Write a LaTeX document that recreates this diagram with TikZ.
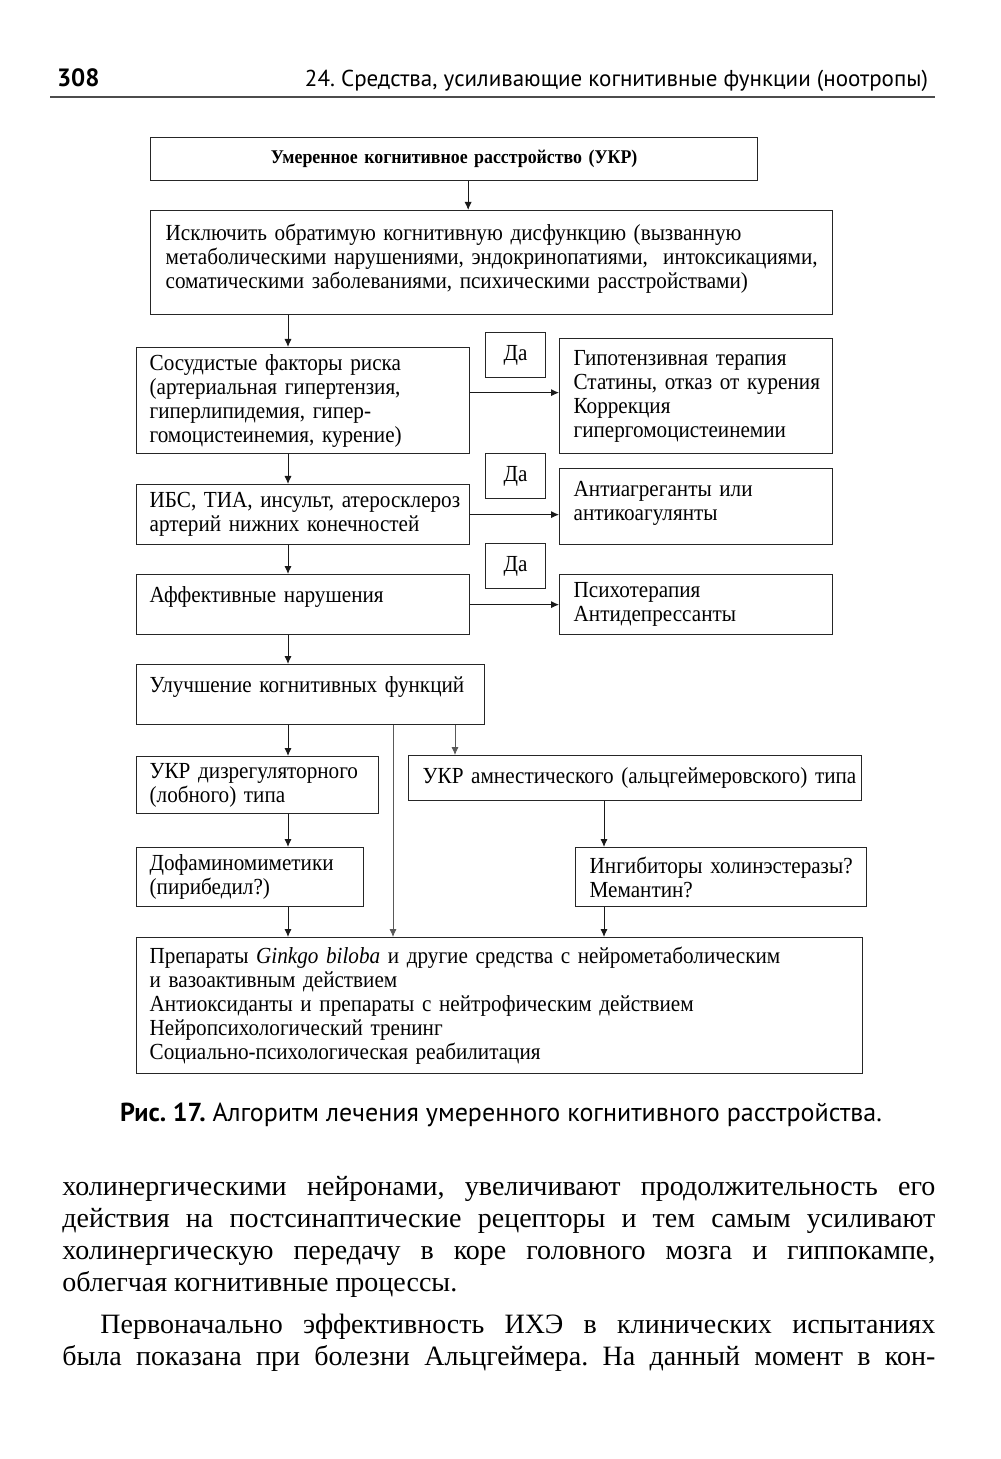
\documentclass[tikz,border=0pt]{standalone}
\usepackage{fontspec}
\setmainfont{Liberation Serif}
\newfontfamily\hdrfont{PT Sans}
\newfontfamily\diagfont[FakeStretch=0.92]{Liberation Serif}
\usetikzlibrary{arrows.meta}
\frenchspacing

\begin{document}
\begin{tikzpicture}[
    x=0.5pt, y=-0.5pt,
    box/.style={
        rectangle,
        draw=black!85,
        line width=0.65pt,
        anchor=north west,
        inner xsep=6.5pt,
        inner ysep=2pt,
        align=left,
        font=\diagfont\fontsize{11.5}{12}\selectfont
    },
    yesbox/.style={
        box,
        minimum width=30pt,
        minimum height=22.5pt,
        align=center,
        inner xsep=2pt
    },
    arrow/.style={-{Latex[length=4pt,width=3.6pt]}, line width=0.5pt, black!90},
    thinarrow/.style={arrow, black!65, line width=0.4pt}
]
\useasboundingbox (0,0) rectangle (1000,1459);

% Page header
\node[anchor=base west, font=\hdrfont\bfseries\fontsize{12.5}{14}\selectfont] (pagenum) at (50,87) {308};
\node[anchor=base east, font=\hdrfont\fontsize{11.5}{13}\selectfont] (runhead) at (935,87)
    {24. Средства, усиливающие когнитивные функции (ноотропы)};
\draw[black!70, line width=0.8pt] (50,97) -- (935,97);

% Main column
\node[box, text width=290.5pt, minimum height=21.5pt, align=center,
      font=\diagfont\bfseries\fontsize{9.7}{12}\selectfont] (ukr) at (150,137)
    {Умеренное когнитивное расстройство (УКР)};

\node[box, text width=326pt, minimum height=52pt, inner xsep=7.5pt] (excl) at (150,210) {
\mbox{Исключить обратимую когнитивную дисфункцию (вызванную}\\
\mbox{метаболическими нарушениями, эндокринопатиями,\ \ интоксикациями,}\\
\mbox{соматическими заболеваниями, психическими расстройствами)}\\[-6pt]\mbox{}
};

\node[box, text width=153.5pt, minimum height=53pt] (vasc) at (136,347) {
Сосудистые факторы риска\\
\mbox{(артериальная гипертензия,}\\
гиперлипидемия, гипер-\\
\mbox{гомоцистеинемия, курение)}
};

\node[box, text width=153.5pt, minimum height=30pt] (ibs) at (136,484) {
\mbox{ИБС, ТИА, инсульт, атеросклероз}\\
артерий нижних конечностей
};

\node[box, text width=153.5pt, minimum height=30pt] (aff) at (136,574) {
Аффективные нарушения\\[-2pt]\mbox{}
};

\node[box, text width=161pt, minimum height=30pt] (impr) at (136,664) {
Улучшение когнитивных функций\\[-2pt]\mbox{}
};

% Yes branches
\node[yesbox] (yes1) at (485,332) {Да};
\node[yesbox] (yes2) at (485,453) {Да};
\node[yesbox] (yes3) at (485,543) {Да};

\node[box, text width=122.5pt, minimum height=57.5pt, inner xsep=7pt] (hypo) at (559,338) {
Гипотензивная терапия\\
\mbox{Статины, отказ от курения}\\
Коррекция\\
гипергомоцистеинемии
};

\node[box, text width=122.5pt, minimum height=38pt, inner xsep=7pt] (anti) at (559,468) {
Антиагреганты или\\
антикоагулянты\\[-6pt]\mbox{}
};

\node[box, text width=122.5pt, minimum height=30pt, inner xsep=7pt] (psy) at (559,574) {
Психотерапия\\
Антидепрессанты
};

% Two types
\node[box, text width=108pt, minimum height=28.5pt] (dys) at (136,756) {
\mbox{УКР дизрегуляторного}\\
(лобного) типа
};

\node[box, text width=212.5pt, minimum height=22.5pt, inner xsep=7pt] (amn) at (408,755) {
\mbox{УКР амнестического (альцгеймеровского) типа}
};

\node[box, text width=100.5pt, minimum height=29.5pt] (dopa) at (136,847) {
Дофаминомиметики\\
(пирибедил?)
};

\node[box, text width=131.5pt, minimum height=29.5pt, inner xsep=7pt] (chol) at (575,847) {
\mbox{Ингибиторы холинэстеразы?}\\
Мемантин?
};

\node[box, text width=350pt, minimum height=68pt] (final) at (136,937) {
\mbox{Препараты \textit{Ginkgo biloba} и другие средства с нейрометаболическим}\\
и вазоактивным действием\\
Антиоксиданты и препараты с нейтрофическим действием\\
Нейропсихологический тренинг\\
Социально-психологическая реабилитация
};

% Arrow columns
\coordinate (spine) at (288,0);
\coordinate (midcol) at (393,0);
\coordinate (amncol) at (455,0);
\coordinate (cholcol) at (604,0);

% Arrows
\draw[arrow] ([xshift=7pt]ukr.south) -- ([xshift=7pt]ukr.south |- excl.north);
\draw[arrow] (excl.south -| spine) -- (vasc.north -| spine);
\draw[arrow] (vasc.south -| spine) -- (ibs.north -| spine);
\draw[arrow] (ibs.south -| spine) -- (aff.north -| spine);
\draw[arrow] (aff.south -| spine) -- (impr.north -| spine);
\draw[arrow] (impr.south -| spine) -- (dys.north -| spine);
\draw[thinarrow] (impr.south -| amncol) -- (amn.north -| amncol);
\draw[thinarrow] (impr.south -| midcol) -- (final.north -| midcol);
\draw[arrow] (dys.south -| spine) -- (dopa.north -| spine);
\draw[arrow] (dopa.south -| spine) -- (final.north -| spine);
\draw[arrow] (amn.south -| cholcol) -- (chol.north -| cholcol);
\draw[arrow] (chol.south -| cholcol) -- (final.north -| cholcol);

\draw[arrow] ([yshift=4pt]vasc.east) -- ([yshift=4pt]vasc.east -| hypo.west);
\draw[arrow] (ibs.east) -- (ibs.east -| anti.west);
\draw[arrow] (aff.east) -- (aff.east -| psy.west);

% Caption
\node[anchor=base, font=\hdrfont\fontsize{13}{15}\selectfont] (caption) at (501,1121)
    {\textbf{Рис. 17.} Алгоритм лечения умеренного когнитивного расстройства.};

% Body text
\node[anchor=north west, inner sep=0pt, text width=436.5pt, align=justify,
      font=\fontsize{14}{16}\selectfont] (para1) at (62,1176) {
холинергическими нейронами, увеличивают продолжительность его
действия на постсинаптические рецепторы и тем самым усиливают
холинергическую передачу в коре головного мозга и гиппокампе,
облегчая когнитивные процессы.
};
\node[anchor=north west, inner sep=0pt, text width=436.5pt, align=justify,
      font=\fontsize{14}{16}\selectfont] (para2) at (62,1314) {
\hspace*{19pt}Первоначально эффективность ИХЭ в клинических испытаниях\linebreak
была показана при болезни Альцгеймера. На данный момент в кон-\parfillskip=0pt\par
};
\end{tikzpicture}
\end{document}
